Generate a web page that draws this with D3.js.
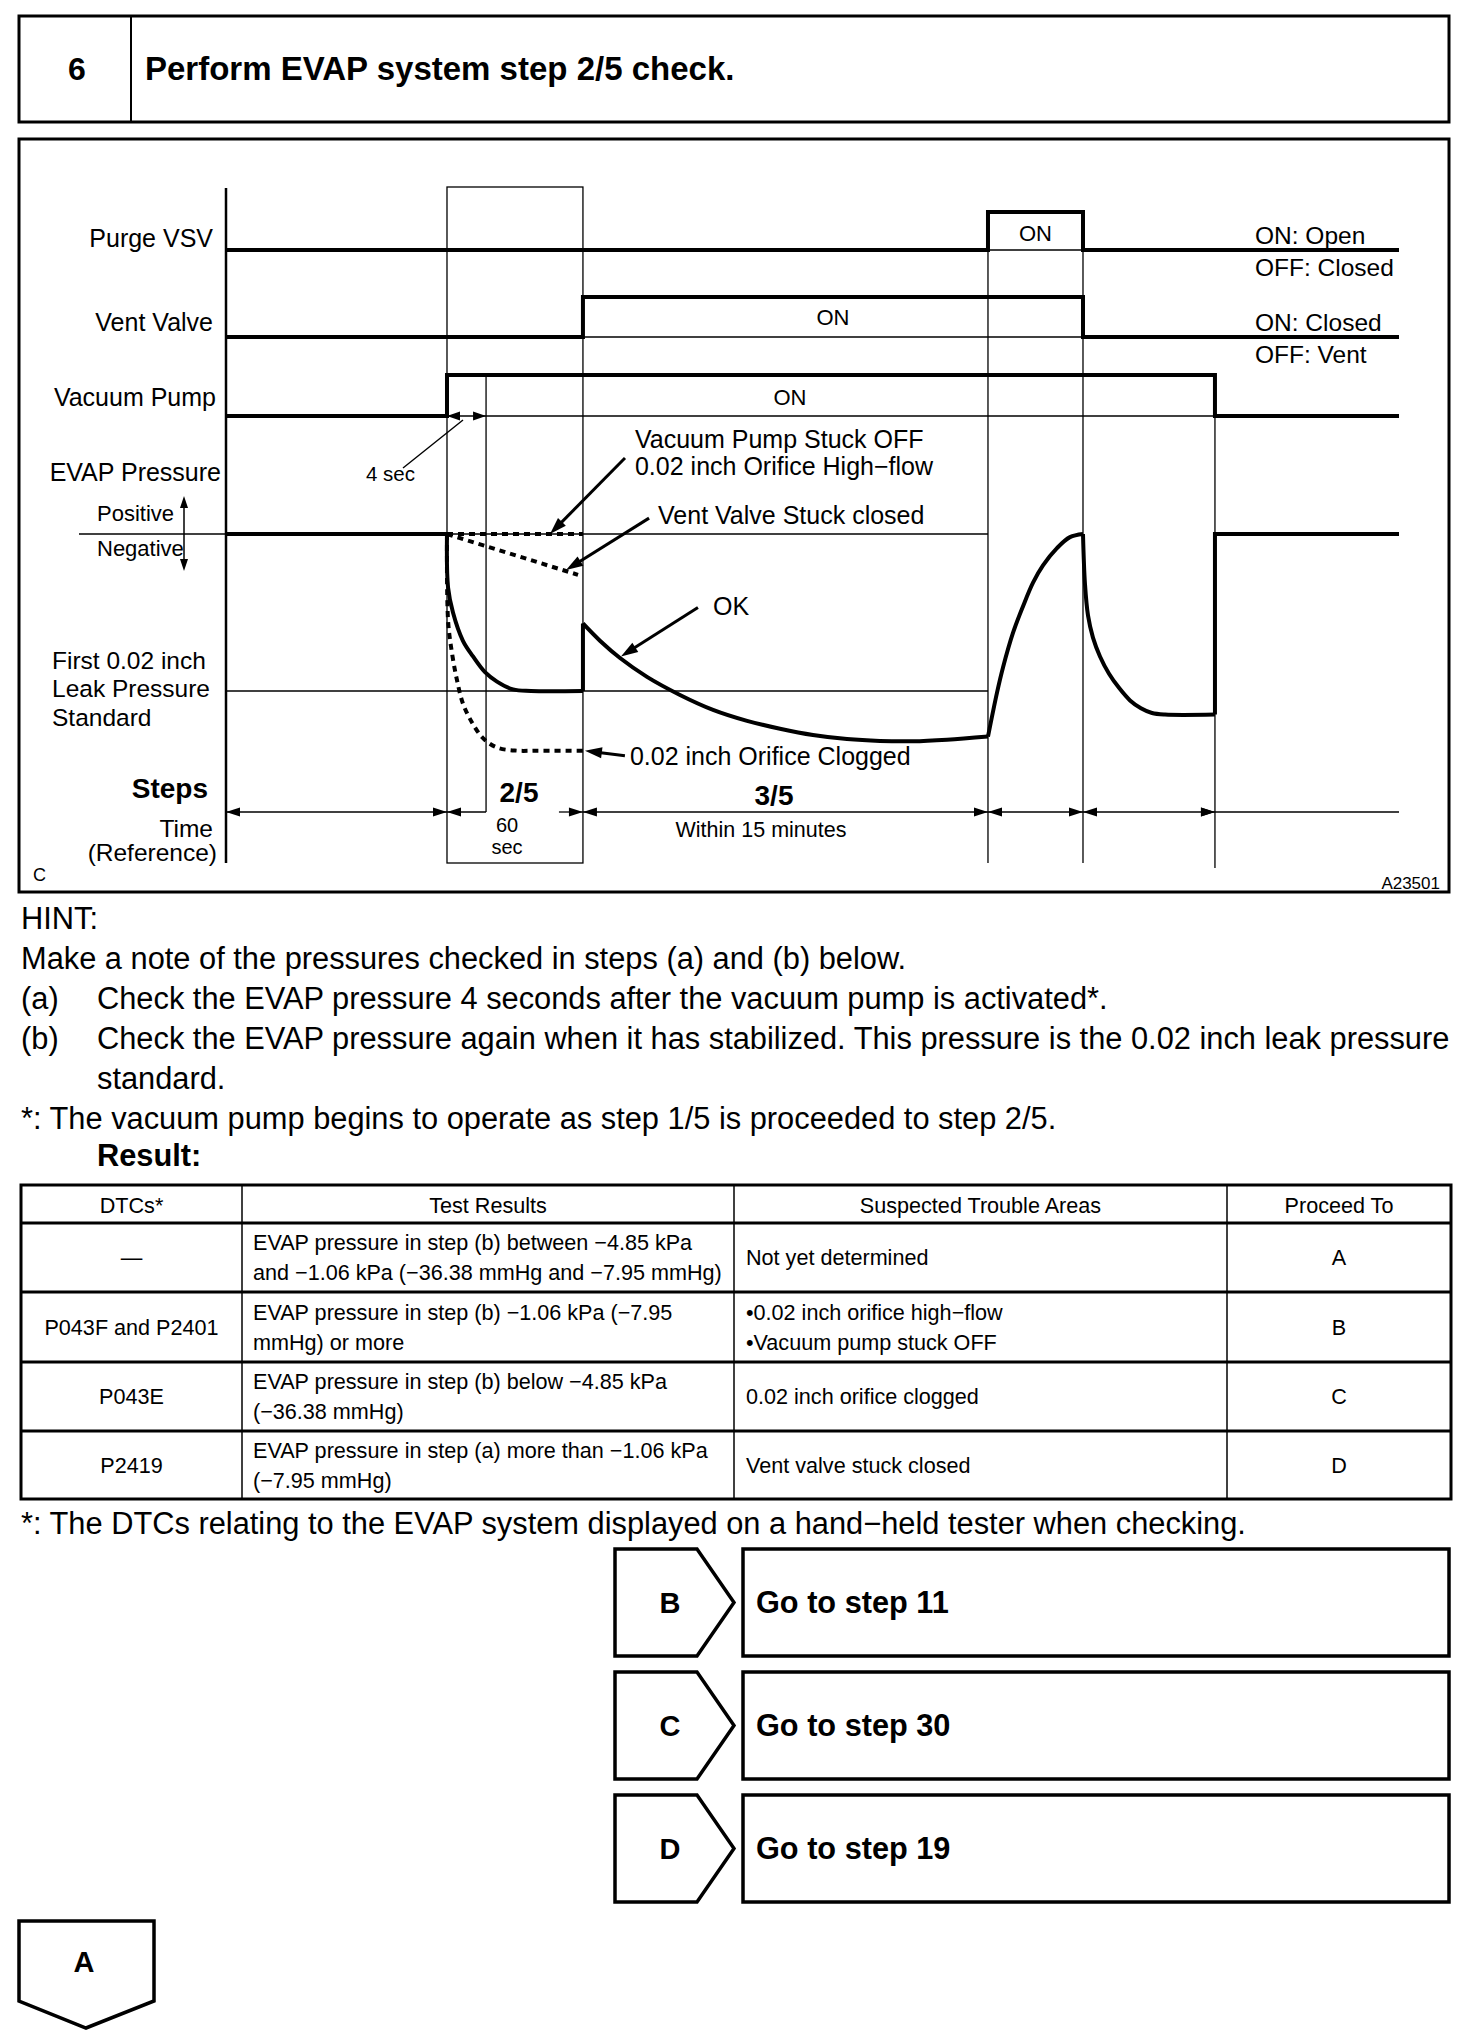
<!DOCTYPE html>
<html>
<head>
<meta charset="utf-8">
<script src="https://cdn.jsdelivr.net/npm/d3@7"></script>
<style>
  body { margin: 0; background: #fff; }
  svg { display: block; font-family: "Liberation Sans", Arial, Helvetica, sans-serif; }
</style>
</head>
<body>
<svg id="page" width="1472" height="2036"></svg>
<script>
// ---------- data ----------
const stepNo = "6";
const stepTitle = "Perform EVAP system step 2/5 check.";

// time runs 0..100 across the chart, pressure is scaled so the 0.02 inch leak standard = -1
const signalNames = ["Purge VSV", "Vent Valve", "Vacuum Pump"];
const purgeVSV   = [[0, 0], [64.96, 0], [64.96, 1], [73.06, 1], [73.06, 0], [100, 0]];
const ventValve  = [[0, 0], [30.43, 0], [30.43, 1], [73.06, 1], [73.06, 0], [100, 0]];
const vacuumPump = [[0, 0], [18.84, 0], [18.84, 1], [84.31, 1], [84.31, 0], [100, 0]];
const signalOnLabels = ["ON", "ON", "ON"];
const signalLegend = [["ON: Open", "OFF: Closed"], ["ON: Closed", "OFF: Vent"], []];

const stepBounds = [0, 18.84, 30.43, 64.96, 73.06, 84.31, 100];
const checkTime = 22.17;      // 4 sec after the pump starts
const leakStandard = -1;

const pressureIdle = [[0, 0], [18.84, 0]];
const okStep2 = [[18.84, 0], [18.93, -0.34], [19.35, -0.5], [20.2, -0.68], [21.06, -0.78], [22.08, -0.88], [23.1, -0.94], [24.47, -0.99], [26.0, -1], [30.43, -1]];
const okJump = [[30.43, -1], [30.43, -0.57]];
const okStep3 = [[30.43, -0.57], [31.88, -0.68], [33.59, -0.79], [35.89, -0.91], [38.7, -1.025], [41.52, -1.12], [44.42, -1.19], [47.23, -1.24], [50.04, -1.28], [52.94, -1.306], [55.75, -1.318], [58.57, -1.32], [61.47, -1.31], [64.96, -1.29]];
const okPurge = [[64.96, -1.29], [65.73, -1.01], [66.24, -0.85], [67.09, -0.63], [67.95, -0.46], [68.8, -0.31], [69.65, -0.2], [70.84, -0.09], [71.95, -0.02], [73.06, 0]];
const okStep4 = [[73.06, 0], [73.23, -0.32], [73.49, -0.52], [73.91, -0.66], [74.51, -0.78], [75.28, -0.89], [76.13, -0.98], [77.07, -1.06], [78.0, -1.11], [78.94, -1.14], [80.05, -1.15], [84.31, -1.15]];
const okEnd = [[84.31, -1.15], [84.31, 0], [100, 0]];

const stuckOff  = [[18.84, 0], [30.43, 0]];
const ventStuck = [[18.84, 0], [30.01, -0.26]];
const clogged   = [[18.84, 0], [18.93, -0.55], [19.27, -0.76], [19.69, -0.93], [20.2, -1.08], [20.97, -1.2], [21.91, -1.3], [23.1, -1.36], [24.81, -1.38], [26.5, -1.38], [30.43, -1.38]];

// annotation: target point [t, p], tail offset, text lines
const notes = [
  { at: [27.62, 0],     tail: [75, -76], text: ["Vacuum Pump Stuck OFF", "0.02 inch Orifice High\u2212flow"], tx: 10, ty: -19 },
  { at: [28.99, -0.23], tail: [83, -52], text: ["Vent Valve Stuck closed"], tx: 9, ty: -3 },
  { at: [33.67, -0.78], tail: [77, -49], text: ["OK"], tx: 15, ty: -1 },
  { at: [30.6, -1.38],  tail: [40, 5],   text: ["0.02 inch Orifice Clogged"], tx: 5, ty: 0 }
];

const hintLines = [
  "Make a note of the pressures checked in steps (a) and (b) below.",
  ["(a)", "Check the EVAP pressure 4 seconds after the vacuum pump is activated*."],
  ["(b)", "Check the EVAP pressure again when it has stabilized. This pressure is the 0.02 inch leak pressure"],
  ["", "standard."],
  "*: The vacuum pump begins to operate as step 1/5 is proceeded to step 2/5."
];

const tableHeaders = ["DTCs*", "Test Results", "Suspected Trouble Areas", "Proceed To"];
const dtcs = ["\u2014", "P043F and P2401", "P043E", "P2419"];
const testResults = [
  ["EVAP pressure in step (b) between \u22124.85 kPa", "and \u22121.06 kPa (\u221236.38 mmHg and \u22127.95 mmHg)"],
  ["EVAP pressure in step (b) \u22121.06 kPa (\u22127.95", "mmHg) or more"],
  ["EVAP pressure in step (b) below \u22124.85 kPa", "(\u221236.38 mmHg)"],
  ["EVAP pressure in step (a) more than \u22121.06 kPa", "(\u22127.95 mmHg)"]
];
const troubleAreas = [
  ["Not yet determined"],
  ["\u20220.02 inch orifice high\u2212flow", "\u2022Vacuum pump stuck OFF"],
  ["0.02 inch orifice clogged"],
  ["Vent valve stuck closed"]
];
const proceedTo = ["A", "B", "C", "D"];
const tableNote = "*: The DTCs relating to the EVAP system displayed on a hand\u2212held tester when checking.";

const goLetters = ["B", "C", "D"];
const goSteps = [11, 30, 19];

// ---------- drawing ----------
const svg = d3.select("#page");
svg.append("rect").attr("width", 1472).attr("height", 2036).attr("fill", "#fff");

function text(g, x, y, s, size, anchor, weight) {
  return g.append("text")
    .attr("x", x).attr("y", y)
    .attr("dominant-baseline", "central")
    .attr("text-anchor", anchor || "start")
    .attr("font-size", size)
    .attr("font-weight", weight || "normal")
    .attr("fill", "#000")
    .text(s);
}
function line(g, x1, y1, x2, y2, w) {
  return g.append("line").attr("x1", x1).attr("y1", y1).attr("x2", x2).attr("y2", y2)
    .attr("stroke", "#000").attr("stroke-width", w);
}
function head(g, tx, ty, ang, len, wid) {
  const ux = Math.cos(ang), uy = Math.sin(ang);
  const bx = tx - ux * len, by = ty - uy * len;
  const pts = [[tx, ty], [bx - uy * wid / 2, by + ux * wid / 2], [bx + uy * wid / 2, by - ux * wid / 2]];
  g.append("polygon").attr("points", pts.map(d => d.join(",")).join(" ")).attr("fill", "#000");
}

// header box
const hdr = svg.append("g");
hdr.append("rect").attr("x", 19).attr("y", 16).attr("width", 1430).attr("height", 106)
  .attr("fill", "none").attr("stroke", "#000").attr("stroke-width", 3);
line(hdr, 131, 16, 131, 122, 2);
text(hdr, 77, 69, stepNo, 32, "middle", "bold");
text(hdr, 145, 68, stepTitle, 33, "start", "bold");

// chart
const ch = svg.append("g");
ch.append("rect").attr("x", 19).attr("y", 139).attr("width", 1430).attr("height", 753)
  .attr("fill", "none").attr("stroke", "#000").attr("stroke-width", 3);

const x = d3.scaleLinear().domain([0, 100]).range([226, 1399]);
const rows = [
  d3.scaleLinear().domain([0, 1]).range([250, 212]),
  d3.scaleLinear().domain([0, 1]).range([337, 297]),
  d3.scaleLinear().domain([0, 1]).range([416, 375])
];
const p = d3.scaleLinear().domain([0, leakStandard]).range([534, 691]);

const thin = 1.3, thick = 4;
const tPumpOn = stepBounds[1], tVent = stepBounds[2], tPurgeOn = stepBounds[3], tPurgeOff = stepBounds[4], tPumpOff = stepBounds[5];

// left axis
line(ch, x(0), 188, x(0), 863, 2.5);

// 2/5 box and event lines
ch.append("rect").attr("x", x(tPumpOn)).attr("y", 187).attr("width", x(tVent) - x(tPumpOn)).attr("height", 676)
  .attr("fill", "none").attr("stroke", "#000").attr("stroke-width", thin);
line(ch, x(checkTime), rows[2](1), x(checkTime), 812, thin);
line(ch, x(tPurgeOn), rows[0](0), x(tPurgeOn), 863, thin);
line(ch, x(tPurgeOff), rows[0](1), x(tPurgeOff), 863, thin);
line(ch, x(tPumpOff), rows[2](1), x(tPumpOff), 868, thin);

// thin baselines under ON states
line(ch, x(tPurgeOn), rows[0](0), x(tPurgeOff), rows[0](0), thin);
line(ch, x(tVent), rows[1](0), x(tPurgeOff), rows[1](0), thin);
line(ch, x(tPumpOn), rows[2](0), x(tPumpOff), rows[2](0), thin);
// pressure reference lines
line(ch, 79, p(0), x(0), p(0), thin);
line(ch, x(tPumpOn), p(0), x(tPurgeOn), p(0), thin);
line(ch, x(0), p(leakStandard), x(tPurgeOn), p(leakStandard), thin);

// signals
const sigData = [purgeVSV, ventValve, vacuumPump];
sigData.forEach((d, i) => {
  const ln = d3.line().x(v => x(v[0])).y(v => rows[i](v[1]));
  ch.append("path").attr("d", ln(d)).attr("fill", "none").attr("stroke", "#000")
    .attr("stroke-width", thick).attr("stroke-linejoin", "miter");
});
text(ch, 213, 238, signalNames[0], 25, "end");
text(ch, 213, 322, signalNames[1], 25, "end");
text(ch, 216, 397, signalNames[2], 25, "end");
text(ch, (x(tPurgeOn) + x(tPurgeOff)) / 2, 233, signalOnLabels[0], 22, "middle");
text(ch, (x(tVent) + x(tPurgeOff)) / 2, 317, signalOnLabels[1], 22, "middle");
text(ch, 790, 397, signalOnLabels[2], 22, "middle");
signalLegend.forEach((lg, i) => {
  if (!lg.length) return;
  text(ch, 1255, rows[i](0) - 15, lg[0], 24.5);
  text(ch, 1255, rows[i](0) + 17, lg[1], 24.5);
});

// EVAP pressure
const pl = d3.line().x(v => x(v[0])).y(v => p(v[1]));
const plc = d3.line().x(v => x(v[0])).y(v => p(v[1])).curve(d3.curveCatmullRom.alpha(0.5));
[pressureIdle, okJump, okEnd].forEach(d => {
  ch.append("path").attr("d", pl(d)).attr("fill", "none").attr("stroke", "#000").attr("stroke-width", thick);
});
[okStep2, okStep3, okPurge, okStep4].forEach(d => {
  ch.append("path").attr("d", plc(d)).attr("fill", "none").attr("stroke", "#000").attr("stroke-width", thick);
});
[stuckOff, ventStuck].forEach(d => {
  ch.append("path").attr("d", pl(d)).attr("fill", "none").attr("stroke", "#000")
    .attr("stroke-width", 4).attr("stroke-dasharray", "6,5");
});
ch.append("path").attr("d", plc(clogged)).attr("fill", "none").attr("stroke", "#000")
  .attr("stroke-width", 4).attr("stroke-dasharray", "6,5");

text(ch, 221, 472, "EVAP Pressure", 25, "end");
text(ch, 97, 513, "Positive", 22);
text(ch, 97, 548, "Negative", 22);
line(ch, 184, 500, 184, 567, 1.5);
head(ch, 184, 496, -Math.PI / 2, 12, 8);
head(ch, 184, 571, Math.PI / 2, 12, 8);
text(ch, 52, 660, "First 0.02 inch", 24.5);
text(ch, 52, 688, "Leak Pressure", 24.5);
text(ch, 52, 717, "Standard", 24.5);

// annotations
notes.forEach(n => {
  const tx = x(n.at[0]), ty = p(n.at[1]);
  const sx = tx + n.tail[0], sy = ty + n.tail[1];
  const ang = Math.atan2(ty - sy, tx - sx);
  line(ch, sx, sy, tx - Math.cos(ang) * 10, ty - Math.sin(ang) * 10, 3);
  head(ch, tx, ty, ang, 17, 11);
  n.text.forEach((s, k) => text(ch, sx + n.tx, sy + n.ty + k * 27, s, 25));
});

// 4 sec marker
const ty4 = rows[2](0);
head(ch, x(tPumpOn), ty4, Math.PI, 13, 9);
head(ch, x(checkTime), ty4, 0, 13, 9);
line(ch, 403, 468, 463, 420, 1.5);
text(ch, 366, 473, "4 sec", 20.5);

// steps / time dimension row
const dimY = 812;
text(ch, 208, 788, "Steps", 28, "end", "bold");
text(ch, 519, 792, "2/5", 28, "middle", "bold");
text(ch, 774, 795, "3/5", 28, "middle", "bold");
text(ch, 213, 828, "Time", 24.5, "end");
text(ch, 217, 852, "(Reference)", 24.5, "end");
text(ch, 507, 825, "60", 20, "middle");
text(ch, 507, 847, "sec", 20, "middle");
text(ch, 761, 830, "Within 15 minutes", 21.5, "middle");
for (let i = 0; i < stepBounds.length - 1; i++) {
  const a = x(stepBounds[i]), b = x(stepBounds[i + 1]);
  if (i === 1) {
    line(ch, a, dimY, x(checkTime), dimY, thin);
    line(ch, b - 24, dimY, b, dimY, thin);
  } else {
    line(ch, a, dimY, b, dimY, thin);
  }
  if (i === stepBounds.length - 2) break;
  head(ch, a, dimY, Math.PI, 14, 9);
  head(ch, b, dimY, 0, 14, 9);
}
head(ch, x(tPumpOff), dimY, 0, 14, 9);
text(ch, 33, 875, "C", 18);
text(ch, 1440, 883, "A23501", 17, "end");

// hint text
const bodySize = 30.8;
const ht = svg.append("g");
text(ht, 21, 918, "HINT:", bodySize);
hintLines.forEach((l, i) => {
  const y = 958 + i * 40;
  if (typeof l === "string") text(ht, 21, y, l, bodySize);
  else { text(ht, 21, y, l[0], bodySize); text(ht, 97, y, l[1], bodySize); }
});
text(ht, 97, 1155, "Result:", bodySize, "start", "bold");

// table
const tb = svg.append("g");
const colX = [21, 242, 734, 1227, 1451];
const rowEdges = [1185, 1223, 1292, 1362, 1431, 1499];
const cellSize = 21.6;
for (let c = 1; c < colX.length - 1; c++) line(tb, colX[c], rowEdges[0], colX[c], rowEdges[5], 1.5);
for (let r = 1; r < rowEdges.length - 1; r++) line(tb, colX[0], rowEdges[r], colX[4], rowEdges[r], 3);
tb.append("rect").attr("x", colX[0]).attr("y", rowEdges[0]).attr("width", colX[4] - colX[0])
  .attr("height", rowEdges[5] - rowEdges[0]).attr("fill", "none").attr("stroke", "#000").attr("stroke-width", 3);
tableHeaders.forEach((h, c) => text(tb, (colX[c] + colX[c + 1]) / 2, 1205, h, cellSize, "middle"));
dtcs.forEach((d, r) => {
  const mid = (rowEdges[r + 1] + rowEdges[r + 2]) / 2;
  text(tb, (colX[0] + colX[1]) / 2, mid, d, cellSize, "middle");
  testResults[r].forEach((s, k) => text(tb, 253, mid + (k - (testResults[r].length - 1) / 2) * 30, s, cellSize));
  troubleAreas[r].forEach((s, k) => text(tb, 746, mid + (k - (troubleAreas[r].length - 1) / 2) * 30, s, cellSize));
  text(tb, (colX[3] + colX[4]) / 2, mid, proceedTo[r], cellSize, "middle");
});
text(svg, 21, 1523, tableNote, bodySize);

// go-to boxes
const gb = svg.append("g");
const goTop = [1549, 1672, 1795];
goLetters.forEach((L, i) => {
  const y0 = goTop[i], y1 = y0 + 107, ym = (y0 + y1) / 2;
  gb.append("polygon")
    .attr("points", [[615, y0], [697, y0], [734, ym], [697, y1], [615, y1]].map(d => d.join(",")).join(" "))
    .attr("fill", "none").attr("stroke", "#000").attr("stroke-width", 3.5);
  gb.append("rect").attr("x", 743).attr("y", y0).attr("width", 706).attr("height", 107)
    .attr("fill", "none").attr("stroke", "#000").attr("stroke-width", 3.5);
  text(gb, 670, ym, L, 29, "middle", "bold");
  text(gb, 756, ym, "Go to step " + goSteps[i], 30.7, "start", "bold");
});

// A box
gb.append("polygon")
  .attr("points", [[19, 1921], [154, 1921], [154, 2001], [86, 2028], [19, 2001]].map(d => d.join(",")).join(" "))
  .attr("fill", "none").attr("stroke", "#000").attr("stroke-width", 3.5);
text(gb, 84, 1962, "A", 29, "middle", "bold");
</script>
</body>
</html>
